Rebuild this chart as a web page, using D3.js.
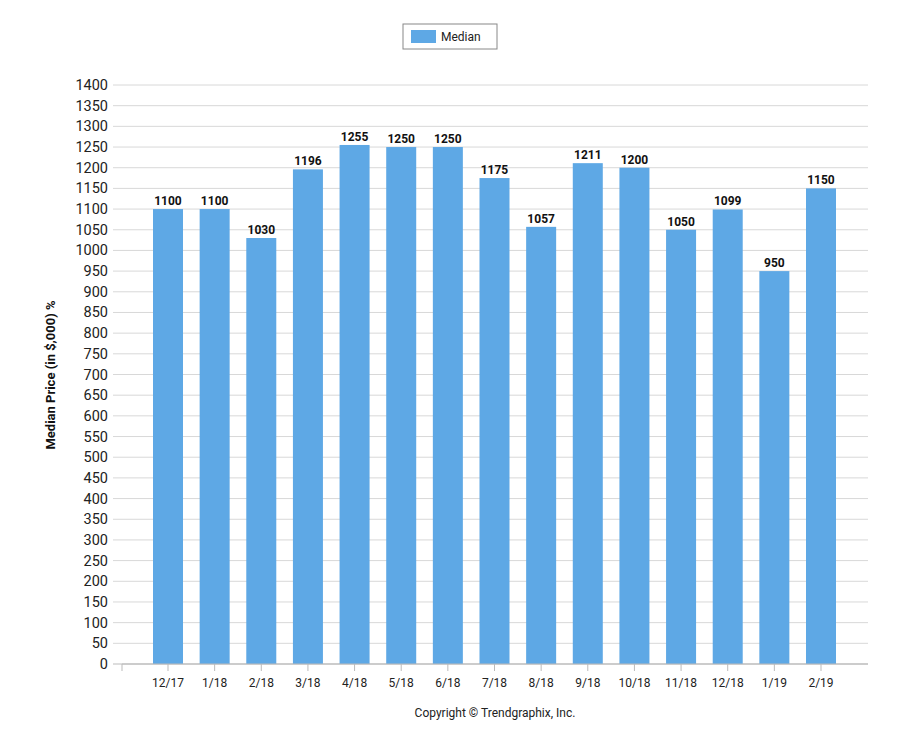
<!DOCTYPE html>
<html>
<head>
<meta charset="utf-8">
<script src="https://cdn.jsdelivr.net/npm/d3@7"></script>
<style>
body { margin: 0; background: #fff; }
text { font-family: Roboto, "Liberation Sans", sans-serif; }
</style>
</head>
<body>
<svg id="chart" width="900" height="750"></svg>
<script>
const months = ["12/17", "1/18", "2/18", "3/18", "4/18", "5/18", "6/18", "7/18", "8/18", "9/18", "10/18", "11/18", "12/18", "1/19", "2/19"];
const median = [1100, 1100, 1030, 1196, 1255, 1250, 1250, 1175, 1057, 1211, 1200, 1050, 1099, 950, 1150];
const yTicks = d3.range(0, 1401, 50);

const svg = d3.select("#chart");
const x = d3.scalePoint().domain(months).range([168, 821]);
const y = d3.scaleLinear().domain([0, 1400]).range([664, 85]);
const barW = 30;

// grid
svg.append("g")
  .selectAll("line")
  .data(yTicks)
  .enter()
  .append("line")
  .attr("x1", 113).attr("x2", 868)
  .attr("y1", d => y(d)).attr("y2", d => y(d))
  .attr("stroke", d => d === 0 ? "#bbb" : "#d8d8d8");

svg.append("g")
  .selectAll("text")
  .data(yTicks)
  .enter()
  .append("text")
  .attr("x", 108).attr("y", d => y(d) + 5)
  .attr("text-anchor", "end")
  .attr("font-size", 14.5)
  .attr("fill", "#222")
  .text(d => d);

// bars
svg.append("g")
  .selectAll("rect")
  .data(median)
  .enter()
  .append("rect")
  .attr("x", (_, i) => x(months[i]) - barW / 2)
  .attr("width", barW)
  .attr("y", d => y(d))
  .attr("height", d => y(0) - y(d))
  .attr("fill", "#5ea8e5");

svg.append("g")
  .selectAll("text")
  .data(median)
  .enter()
  .append("text")
  .attr("x", (_, i) => x(months[i]))
  .attr("y", d => y(d) - 4)
  .attr("text-anchor", "middle")
  .attr("font-size", 12)
  .attr("font-weight", "bold")
  .attr("fill", "#111")
  .text(d => d);

// x axis
svg.append("line")
  .attr("x1", 122).attr("x2", 868)
  .attr("y1", 664).attr("y2", 664)
  .attr("stroke", "#bbb");
svg.append("line")
  .attr("x1", 122).attr("x2", 122)
  .attr("y1", 664).attr("y2", 671)
  .attr("stroke", "#bbb");
svg.append("g")
  .selectAll("line")
  .data(months)
  .enter()
  .append("line")
  .attr("x1", d => x(d)).attr("x2", d => x(d))
  .attr("y1", 664).attr("y2", 671)
  .attr("stroke", "#bbb");
svg.append("g")
  .selectAll("text")
  .data(months)
  .enter()
  .append("text")
  .attr("x", d => x(d)).attr("y", 687)
  .attr("text-anchor", "middle")
  .attr("font-size", 12)
  .attr("fill", "#222")
  .text(d => d);

// y title
svg.append("text")
  .attr("transform", "translate(55,375) rotate(-90)")
  .attr("text-anchor", "middle")
  .attr("font-size", 13)
  .attr("font-weight", "bold")
  .attr("fill", "#111")
  .text("Median Price (in $,000) %");

// legend
svg.append("rect")
  .attr("x", 403).attr("y", 24).attr("width", 94).attr("height", 25)
  .attr("fill", "#fff").attr("stroke", "#888");
svg.append("rect")
  .attr("x", 411).attr("y", 30).attr("width", 25).attr("height", 13)
  .attr("fill", "#5ea8e5");
svg.append("text")
  .attr("x", 441).attr("y", 41)
  .attr("font-size", 12).attr("fill", "#222")
  .text("Median");

svg.append("text")
  .attr("x", 495).attr("y", 717)
  .attr("text-anchor", "middle")
  .attr("font-size", 12).attr("fill", "#222")
  .text("Copyright © Trendgraphix, Inc.");
</script>
</body>
</html>
